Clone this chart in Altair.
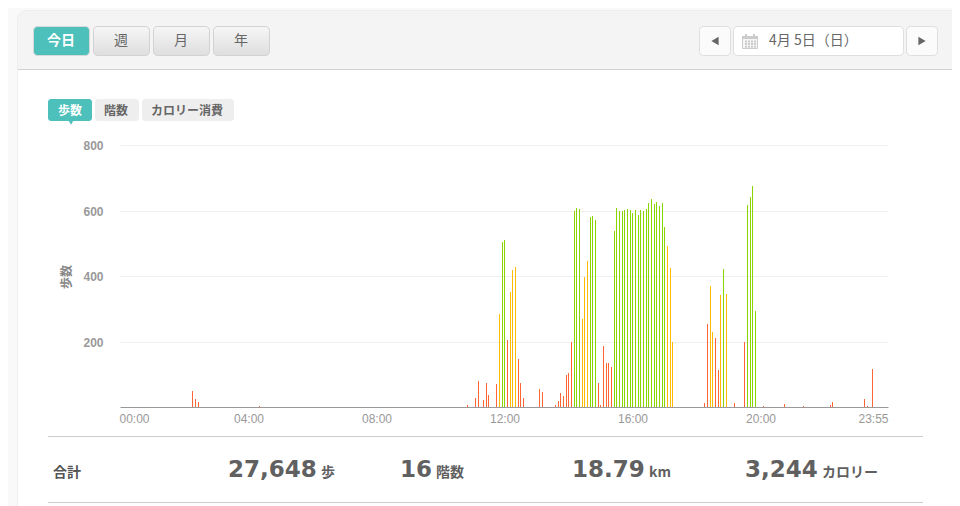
import altair as alt
import pandas as pd

# ---- chart data (5-minute slot index, steps, colour level) ----
SLOTS = [27, 28, 29, 52, 130, 133, 134, 136, 137, 138, 141, 142, 143, 144, 145, 146, 147, 148, 149, 150,
         151, 157, 158, 163, 164, 165, 166, 167, 168, 169, 170, 171, 172, 173, 174, 175, 176, 177, 178, 179,
         180, 181, 182, 183, 184, 185, 186, 187, 188, 189, 190, 191, 192, 193, 194, 195, 196, 197, 198, 199,
         200, 201, 202, 203, 204, 205, 206, 207, 219, 220, 221, 222, 223, 224, 225, 226, 227, 230, 234, 235,
         236, 237, 238, 241, 249, 256, 266, 267, 279, 280, 282]
STEPS = [50, 25, 16, 4, 5, 26, 78, 20, 72, 38, 69, 285, 505, 511, 206, 352, 417, 428, 148, 72,
         26, 54, 47, 5, 17, 44, 34, 99, 105, 200, 600, 609, 606, 270, 398, 447, 581, 584, 572, 72,
         7, 187, 133, 133, 123, 536, 609, 597, 600, 603, 606, 603, 593, 603, 587, 603, 597, 606, 624, 636,
         621, 627, 615, 624, 550, 492, 425, 200, 13, 254, 370, 230, 212, 114, 343, 420, 346, 13, 200, 618,
         642, 676, 294, 3, 10, 4, 6, 16, 23, 4, 116]
LEVELS = ["low"] * 11 + ["mid", "high", "high", "low", "mid", "mid", "mid", "low", "low",
          "low", "low", "low", "low", "low", "low", "low", "low", "low", "low", "high", "high", "high", "mid", "mid", "mid", "high", "high", "high", "low",
          "low", "low", "low", "low", "low"] + ["high"] * 20 + ["mid", "mid", "mid", "low", "low", "mid", "mid", "low", "low", "mid", "high", "mid", "low", "low", "high",
          "high", "high", "high"] + ["low"] * 8
LEVEL_NAMES = ["low", "mid", "high"]
LEVEL_COLORS = ["#ff6633", "#ffbb00", "#8cd600"]
TICK_MINUTES = [0, 240, 480, 720, 960, 1200, 1435]
STEP_TICKS = [200, 400, 600, 800]

TOTALS = [("27,648", "歩", 228, 321), ("16", "階数", 400, 436), ("18.79", "km", 572, 649), ("3,244", "カロリー", 745, 822)]

df = pd.DataFrame({"slot": SLOTS, "steps": STEPS, "level": LEVELS})

W, H, M = 952, 506, 8
blank = alt.Data(values=[{"a": 1}])
CJK = "Noto Sans CJK JP"


def box(x1, y1, x2, y2, fill, stroke=None, radius=0, sw=1):
    kw = dict(fill=fill, cornerRadius=radius)
    if stroke:
        kw.update(stroke=stroke, strokeWidth=sw)
    return alt.Chart(blank).mark_rect(**kw).encode(
        x=alt.value(x1 - M), x2=alt.value(x2 - M), y=alt.value(y1 - M), y2=alt.value(y2 - M))


def label(x, y, s, size=13, color="#666666", weight="normal", align="left", font=CJK):
    return alt.Chart(blank).mark_text(text=s, fontSize=size, color=color, fontWeight=weight, align=align,
                                      baseline="alphabetic", font=font).encode(
        x=alt.value(x - M), y=alt.value(y - M))


def tri(x, y, shape, size, color):
    return alt.Chart(blank).mark_point(shape=shape, filled=True, fill=color, opacity=1, size=size, strokeWidth=0).encode(
        x=alt.value(x - M), y=alt.value(y - M))


grad = alt.LinearGradient(gradient="linear", x1=0, x2=0, y1=0, y2=1,
                          stops=[alt.GradientStop(color="#f6f6f6", offset=0), alt.GradientStop(color="#dedede", offset=1)])
OUT = "#f9f9f9"
chrome = [
    box(8, 8, 17, 506, OUT),
    box(8, 8, 960, 20, OUT),
    box(17, 10, 960, 80, "#eeeeee", radius=10),
    box(18, 11, 960, 80, "#f4f4f4", radius=9),
    box(18, 69, 960, 70, "#d2d2d2"),
    box(18, 70, 960, 82, "#ffffff"),
    box(17, 70, 18, 506, "#eeeeee"),
    box(33.5, 26.5, 89.5, 55.5, "#4dc0bb", "#d8d8d8", 4),
    box(93.5, 26.5, 149.5, 55.5, grad, "#d2d2d2", 4),
    box(153.5, 26.5, 209.5, 55.5, grad, "#d2d2d2", 4),
    box(213.5, 26.5, 269.5, 55.5, grad, "#d2d2d2", 4),
    box(699.5, 26.5, 730.5, 55.5, "#fbfbfb", "#dedede", 4),
    box(733.5, 26.5, 903.5, 55.5, "#ffffff", "#dedede", 4),
    box(906.5, 26.5, 937.5, 55.5, "#fbfbfb", "#dedede", 4),
    tri(715, 41, "triangle-left", 70, "#666666"),
    tri(922, 41, "triangle-right", 70, "#666666"),
    box(742.5, 36.5, 757.5, 48.5, "#f6f6f6", "#cccccc"),
    box(742, 36, 758, 39, "#cccccc"),
    box(745, 34, 747, 37, "#cccccc"),
    box(753, 34, 755, 37, "#cccccc"),
    label(61, 45, "今日", 14, "#ffffff", "bold", "center"),
    label(121, 45, "週", 14, "#666666", "normal", "center"),
    label(181, 45, "月", 14, "#666666", "normal", "center"),
    label(241, 45, "年", 14, "#666666", "normal", "center"),
    label(769, 45, "4月 5日（日）", 14, "#666666"),
    box(48, 99, 92, 121, "#4dc0bb", None, 3),
    box(95, 99, 139, 121, "#eeeeee", None, 3),
    box(142, 99, 234, 121, "#eeeeee", None, 3),
    tri(71, 122, "triangle-down", 40, "#4dc0bb"),
    label(70, 115, "歩数", 12, "#ffffff", "bold", "center"),
    label(116, 115, "階数", 12, "#666666", "bold", "center"),
    label(187, 115, "カロリー消費", 12, "#666666", "bold", "center"),
    box(48, 436, 923, 437, "#cccccc"),
    box(48, 502, 923, 503, "#cccccc"),
    label(53, 477, "合計", 14, "#555555", "bold"),
]
for row in range(3):
    for col in range(4):
        chrome.append(box(745 + 3 * col, 40.5 + 2.6 * row, 747 + 3 * col, 42.5 + 2.6 * row, "#cccccc"))
for val, unit, xv, xu in TOTALS:
    chrome.append(label(xv, 477, val, 23, "#606060", "bold", font="DejaVu Sans"))
    chrome.append(label(xu, 477, unit, 14, "#606060", "bold"))

x_scale = alt.Scale(domain=[0, 1440], range=[112, 880], round=True, nice=False, zero=False)
y_scale = alt.Scale(domain=[0, 800], range=[399, 137], round=True, nice=False)

x_axis = alt.Axis(values=TICK_MINUTES, title=None, grid=False, ticks=False, tickSize=0, offset=-99,
                  domainColor="#999999", domainWidth=1, labelColor="#999999", labelFont="Liberation Sans",
                  labelFontSize=12, labelPadding=6, labelFlush=False, labelOverlap=False,
                  labelExpr="pad(floor(datum.value/60),2,'0','left')+':'+pad(datum.value%60,2,'0','left')",
                  labelAlign=alt.expr("datum.value == 0 ? 'left' : datum.value == 1435 ? 'right' : 'center'"),
                  labelOffset=alt.expr("datum.value == 1435 ? 3 : datum.value == 0 ? -1 : 0.5"), zindex=1)
y_axis = alt.Axis(values=STEP_TICKS, title="歩数", domain=False, ticks=False, tickSize=0, offset=-112,
                  grid=True, gridColor="#f0f0f0", gridWidth=1, labelColor="#999999", labelFont="Liberation Sans",
                  labelFontSize=12, labelFontWeight="bold", labelPadding=17, labelFlush=False, labelOverlap=False,
                  titleFont=CJK, titleFontSize=12, titleFontWeight="bold", titleColor="#888888",
                  titleX=-47, titleY=268.5, zindex=0)

bars = alt.Chart(df).transform_calculate(
    start="datum.slot * 5 + 0.9", end="datum.slot * 5 + 0.9 + 1.875"
).mark_bar().encode(
    x=alt.X("start:Q", scale=x_scale, axis=x_axis),
    x2="end:Q",
    y=alt.Y("steps:Q", scale=y_scale, axis=y_axis),
    y2=alt.datum(0),
    color=alt.Color("level:N", scale=alt.Scale(domain=LEVEL_NAMES, range=LEVEL_COLORS), legend=None),
)

chart = alt.layer(*chrome, bars).properties(
    width=W - M, height=H - M, background="#ffffff", padding=0,
    autosize=alt.AutoSizeParams(type="none")
).configure_view(stroke=None)

chart.save("out.html", embed_options={"renderer": "svg", "actions": False})
